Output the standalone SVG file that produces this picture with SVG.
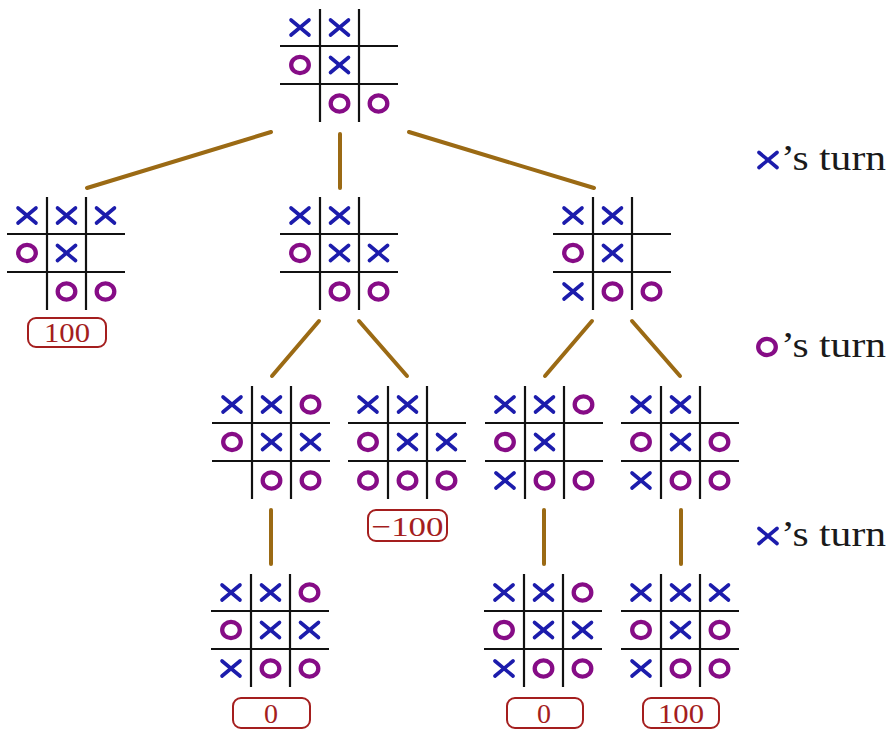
<svg xmlns="http://www.w3.org/2000/svg" xmlns:xlink="http://www.w3.org/1999/xlink" width="890" height="735" viewBox="0 0 890 735">
<style>
.grid line{stroke:#111;stroke-width:2.2}
.xs line{stroke:#1c1cac;stroke-width:3.6;stroke-linecap:round}
.os{fill:none;stroke:#860c86;stroke-width:4.3}
.conn line{stroke:#9b6a14;stroke-width:4;stroke-linecap:round}
.box{fill:#fff;stroke:#a41e1e;stroke-width:2}
.score{font-family:"Liberation Serif","Times New Roman",serif;font-size:28px;fill:#a41e1e;text-anchor:middle}
.turn{font-family:"Liberation Serif","Times New Roman",serif;font-size:36px;fill:#1a1a1a}
</style>
<defs>
<g id="grid" class="grid">
<line x1="40" y1="0" x2="40" y2="113"/>
<line x1="79" y1="0" x2="79" y2="113"/>
<line x1="0" y1="37" x2="118" y2="37"/>
<line x1="0" y1="75" x2="118" y2="75"/>
</g>
<g id="X" class="xs"><line x1="-9" y1="-7.5" x2="9" y2="7.5"/><line x1="-9" y1="7.5" x2="9" y2="-7.5"/></g>
<ellipse id="O" class="os" cx="0" cy="0" rx="8.8" ry="8.2"/>
</defs>

<g id="connectors" class="conn">
<line x1="271" y1="132" x2="87" y2="188"/>
<line x1="340" y1="134" x2="340" y2="188"/>
<line x1="409" y1="132" x2="594" y2="188"/>
<line x1="319" y1="321" x2="272" y2="376"/>
<line x1="359" y1="321" x2="407" y2="376"/>
<line x1="592" y1="321" x2="545" y2="376"/>
<line x1="632" y1="321" x2="680" y2="376"/>
<line x1="271" y1="510" x2="271" y2="564"/>
<line x1="544" y1="510" x2="544" y2="564"/>
<line x1="681" y1="510" x2="681" y2="564"/>
</g>

<g id="root" transform="translate(280,9)">
<use href="#grid"/>
<use href="#X" x="20" y="18.5"/><use href="#X" x="59.5" y="18.5"/>
<use href="#O" x="20" y="56"/><use href="#X" x="59.5" y="56"/>
<use href="#O" x="59.5" y="94.5"/><use href="#O" x="98.5" y="94.5"/>
</g>

<g id="b1a" transform="translate(7,197)">
<use href="#grid"/>
<use href="#X" x="20" y="18.5"/><use href="#X" x="59.5" y="18.5"/><use href="#X" x="98.5" y="18.5"/>
<use href="#O" x="20" y="56"/><use href="#X" x="59.5" y="56"/>
<use href="#O" x="59.5" y="94.5"/><use href="#O" x="98.5" y="94.5"/>
<rect class="box" x="21" y="121" width="78" height="29" rx="8"/>
<text class="score" x="60" y="145" textLength="46" lengthAdjust="spacingAndGlyphs">100</text>
</g>

<g id="b1b" transform="translate(280,197)">
<use href="#grid"/>
<use href="#X" x="20" y="18.5"/><use href="#X" x="59.5" y="18.5"/>
<use href="#O" x="20" y="56"/><use href="#X" x="59.5" y="56"/><use href="#X" x="98.5" y="56"/>
<use href="#O" x="59.5" y="94.5"/><use href="#O" x="98.5" y="94.5"/>
</g>

<g id="b1c" transform="translate(553,197)">
<use href="#grid"/>
<use href="#X" x="20" y="18.5"/><use href="#X" x="59.5" y="18.5"/>
<use href="#O" x="20" y="56"/><use href="#X" x="59.5" y="56"/>
<use href="#X" x="20" y="94.5"/><use href="#O" x="59.5" y="94.5"/><use href="#O" x="98.5" y="94.5"/>
</g>

<g id="b2a" transform="translate(212,386)">
<use href="#grid"/>
<use href="#X" x="20" y="18.5"/><use href="#X" x="59.5" y="18.5"/><use href="#O" x="98.5" y="18.5"/>
<use href="#O" x="20" y="56"/><use href="#X" x="59.5" y="56"/><use href="#X" x="98.5" y="56"/>
<use href="#O" x="59.5" y="94.5"/><use href="#O" x="98.5" y="94.5"/>
</g>

<g id="b2b" transform="translate(348,386)">
<use href="#grid"/>
<use href="#X" x="20" y="18.5"/><use href="#X" x="59.5" y="18.5"/>
<use href="#O" x="20" y="56"/><use href="#X" x="59.5" y="56"/><use href="#X" x="98.5" y="56"/>
<use href="#O" x="20" y="94.5"/><use href="#O" x="59.5" y="94.5"/><use href="#O" x="98.5" y="94.5"/>
<rect class="box" x="20" y="124" width="79" height="31" rx="8"/>
<text class="score" x="59.5" y="150" textLength="72" lengthAdjust="spacingAndGlyphs">−100</text>
</g>

<g id="b2c" transform="translate(485,386)">
<use href="#grid"/>
<use href="#X" x="20" y="18.5"/><use href="#X" x="59.5" y="18.5"/><use href="#O" x="98.5" y="18.5"/>
<use href="#O" x="20" y="56"/><use href="#X" x="59.5" y="56"/>
<use href="#X" x="20" y="94.5"/><use href="#O" x="59.5" y="94.5"/><use href="#O" x="98.5" y="94.5"/>
</g>

<g id="b2d" transform="translate(621,386)">
<use href="#grid"/>
<use href="#X" x="20" y="18.5"/><use href="#X" x="59.5" y="18.5"/>
<use href="#O" x="20" y="56"/><use href="#X" x="59.5" y="56"/><use href="#O" x="98.5" y="56"/>
<use href="#X" x="20" y="94.5"/><use href="#O" x="59.5" y="94.5"/><use href="#O" x="98.5" y="94.5"/>
</g>

<g id="b3a" transform="translate(211,574)">
<use href="#grid"/>
<use href="#X" x="20" y="18.5"/><use href="#X" x="59.5" y="18.5"/><use href="#O" x="98.5" y="18.5"/>
<use href="#O" x="20" y="56"/><use href="#X" x="59.5" y="56"/><use href="#X" x="98.5" y="56"/>
<use href="#X" x="20" y="94.5"/><use href="#O" x="59.5" y="94.5"/><use href="#O" x="98.5" y="94.5"/>
<rect class="box" x="22" y="124" width="77" height="30" rx="8"/>
<text class="score" x="60" y="149">0</text>
</g>

<g id="b3b" transform="translate(484,574)">
<use href="#grid"/>
<use href="#X" x="20" y="18.5"/><use href="#X" x="59.5" y="18.5"/><use href="#O" x="98.5" y="18.5"/>
<use href="#O" x="20" y="56"/><use href="#X" x="59.5" y="56"/><use href="#X" x="98.5" y="56"/>
<use href="#X" x="20" y="94.5"/><use href="#O" x="59.5" y="94.5"/><use href="#O" x="98.5" y="94.5"/>
<rect class="box" x="23" y="124" width="76" height="30" rx="8"/>
<text class="score" x="60" y="149">0</text>
</g>

<g id="b3c" transform="translate(621,574)">
<use href="#grid"/>
<use href="#X" x="20" y="18.5"/><use href="#X" x="59.5" y="18.5"/><use href="#X" x="98.5" y="18.5"/>
<use href="#O" x="20" y="56"/><use href="#X" x="59.5" y="56"/><use href="#O" x="98.5" y="56"/>
<use href="#X" x="20" y="94.5"/><use href="#O" x="59.5" y="94.5"/><use href="#O" x="98.5" y="94.5"/>
<rect class="box" x="22" y="124" width="76" height="30" rx="8"/>
<text class="score" x="60" y="149" textLength="46" lengthAdjust="spacingAndGlyphs">100</text>
</g>

<g id="turn1">
<use href="#X" x="768" y="160"/>
<text class="turn" x="781" y="170" textLength="105" lengthAdjust="spacingAndGlyphs">’s turn</text>
</g>
<g id="turn2">
<use href="#O" x="767" y="347"/>
<text class="turn" x="781" y="357" textLength="105" lengthAdjust="spacingAndGlyphs">’s turn</text>
</g>
<g id="turn3">
<use href="#X" x="768" y="536"/>
<text class="turn" x="781" y="546" textLength="105" lengthAdjust="spacingAndGlyphs">’s turn</text>
</g>
</svg>
